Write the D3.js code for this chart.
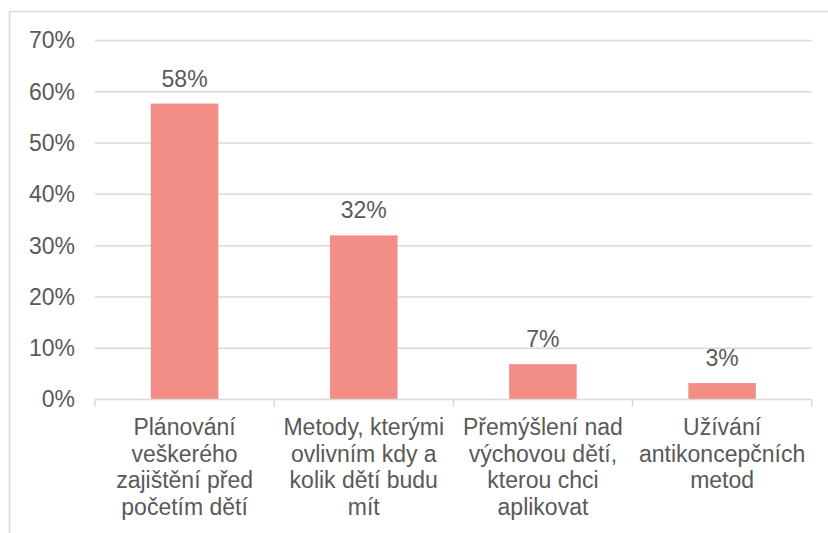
<!DOCTYPE html>
<html><head><meta charset="utf-8">
<script src="https://cdn.jsdelivr.net/npm/d3@7"></script>
<style>html,body{margin:0;padding:0;background:#fff;}svg{display:block;font-family:"Liberation Sans",Arial,sans-serif;}</style>
</head><body>
<svg id="c" width="828" height="533"></svg>
<script>
const categories = [
  "Plánování\nveškerého\nzajištění před\npočetím dětí",
  "Metody, kterými\novlivním kdy a\nkolik dětí budu\nmít",
  "Přemýšlení nad\nvýchovou dětí,\nkterou chci\naplikovat",
  "Užívání\nantikoncepčních\nmetod"
];
const values = [57.7, 32.0, 6.9, 3.2];
const yTicks = [0, 10, 20, 30, 40, 50, 60, 70];

const svg = d3.select("#c");
const textColor = "#595959", gridColor = "#D9D9D9", barColor = "#F28E86";
const fs = 23;

svg.append("rect").attr("x", 9.5).attr("y", 11.5).attr("width", 840).attr("height", 540)
  .attr("fill", "none").attr("stroke", gridColor).attr("stroke-width", 1.5);

const x = d3.scaleBand().domain(d3.range(categories.length)).range([95, 811.7]).paddingInner(0).paddingOuter(0);
const y = d3.scaleLinear().domain([0, 70]).range([399.5, 40.5]);

// gridlines
svg.append("g").selectAll("line").data(yTicks.filter(t => t > 0)).join("line")
  .attr("x1", 95).attr("x2", 811.7).attr("y1", d => y(d)).attr("y2", d => y(d))
  .attr("stroke", gridColor).attr("stroke-width", 1.5);

// y axis labels
const yAxis = d3.axisLeft(y).tickValues(yTicks).tickFormat(d => d + "%").tickSize(0).tickPadding(0);
const ga = svg.append("g").attr("transform", "translate(75,0)").call(yAxis);
ga.select(".domain").remove();
ga.selectAll("text").attr("fill", textColor).style("font-size", fs + "px").style("font-family", "Liberation Sans, Arial, sans-serif");

// bars
const bw = x.bandwidth() * 0.377;
svg.append("g").selectAll("rect").data(values).join("rect")
  .attr("x", (d, i) => x(i) + x.bandwidth() / 2 - bw / 2)
  .attr("y", d => y(d)).attr("width", bw).attr("height", d => y(0) - y(d))
  .attr("fill", barColor);

// value labels
svg.append("g").selectAll("text").data(values).join("text")
  .attr("x", (d, i) => x(i) + x.bandwidth() / 2).attr("y", d => y(d) - 17)
  .attr("text-anchor", "middle").attr("fill", textColor).style("font-size", fs + "px")
  .text(d => Math.round(d) + "%");

// x axis line + ticks
const xAxis = d3.axisBottom(x).tickSize(0).tickFormat("");
const gx = svg.append("g").attr("transform", `translate(0,${y(0)})`).call(xAxis);
gx.select(".domain").attr("stroke", gridColor).attr("stroke-width", 1.5).attr("d", `M95,0H811.7`);
gx.selectAll(".tick").remove();
const bounds = d3.range(categories.length + 1).map(i => i < categories.length ? x(i) : x(i - 1) + x.bandwidth());
gx.selectAll("line.b").data(bounds).join("line").attr("class", "b")
  .attr("x1", d => d).attr("x2", d => d).attr("y1", 0).attr("y2", 7)
  .attr("stroke", gridColor).attr("stroke-width", 1.5);

// category labels
const cl = svg.append("g").selectAll("text").data(categories).join("text")
  .attr("text-anchor", "middle").attr("fill", textColor).style("font-size", fs + "px");
cl.each(function (d, i) {
  const t = d3.select(this);
  d.split("\n").forEach((line, j) => {
    t.append("tspan").attr("x", x(i) + x.bandwidth() / 2).attr("y", 435 + j * 26.7).text(line);
  });
});
</script>
</body></html>
